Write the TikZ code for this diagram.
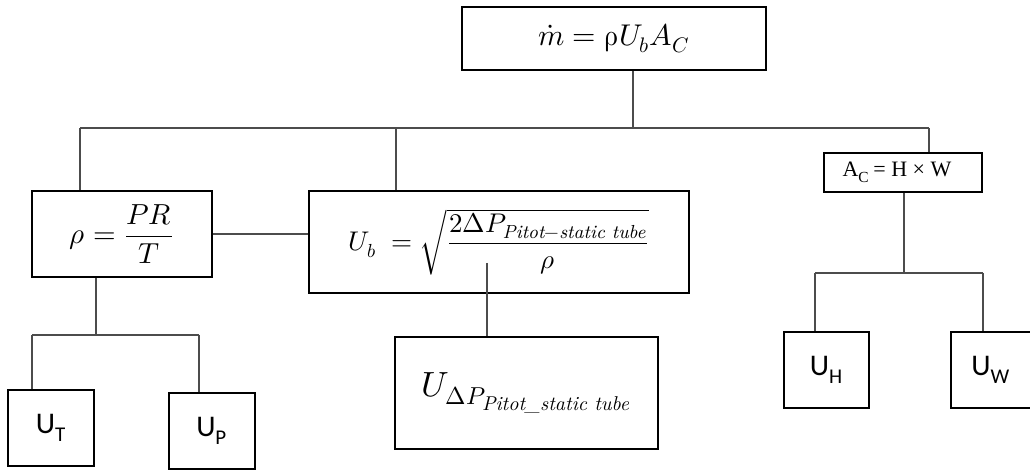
\documentclass[tikz,border=0pt]{standalone}
\usepackage{amsmath}
\usepackage{fontspec}
\usepackage{unicode-math}
\setmathfont{Latin Modern Math}
\newfontfamily\calib{Carlito}
\newfontfamily\tnr{Liberation Serif}
\usetikzlibrary{positioning}

\begin{document}
\begin{tikzpicture}[
    x=0.5pt, y=-0.5pt,
    box/.style={
        rectangle,
        draw=black,
        line width=0.9pt,
        align=center,
        inner sep=0pt
    },
    ubox/.style={
        box,
        minimum width=43pt,
        minimum height=38pt,
        font=\calib\fontsize{15}{18}\selectfont
    },
    link/.style={draw=black!70, line width=0.55pt}
]
\useasboundingbox (0,0) rectangle (1030,470);

% ---------------- Mass flow ----------------
\node[box, minimum width=152pt, minimum height=31.5pt, font=\fontsize{15}{18}\selectfont] (mdot) at (614,38.5) {$\dot m = \symup{\rho}U_bA_C$};

% ---------------- Second level ----------------
\node[box, minimum width=90pt, minimum height=43pt, font=\fontsize{14.5}{17}\selectfont] (rho) at (122,234) {$\rho = \dfrac{PR}{T}$};
\node[box, minimum width=190pt, minimum height=51pt, font=\fontsize{13.5}{16}\selectfont, right=47.5pt of rho.north east, anchor=north west] (ub) {$U_b\; = \sqrt{\dfrac{2\Delta P_{\textit{Pitot}-\textit{static tube}}}{\rho}}$};
\node[box, minimum width=79pt, minimum height=19.5pt, font=\tnr\fontsize{11}{13}\selectfont] (area) at (903,172.5) {A\textsubscript{C}\,= H × W\kern6pt};

% ---------------- Uncertainties ----------------
\node[box, minimum width=131.5pt, minimum height=56pt, font=\fontsize{17.5}{20}\selectfont] (udp) at (526.5,393) {$U_{\Delta P_{\mbox{\fontsize{10}{12}\selectfont\itshape Pitot\_static tube}}}$};
\node[ubox] (ut) at (51,428) {U\textsubscript{T}};
\node[ubox, right=36.5pt of ut, yshift=-1.5pt] (up) {U\textsubscript{P}};
\node[ubox, minimum width=42.5pt] (uh) at (826.5,370) {U\textsubscript{H}};
\node[ubox, minimum width=40pt, right=40pt of uh] (uw) {U\textsubscript{W}};

% ---------------- Connectors ----------------
\coordinate (mj) at (633,128);
\coordinate (bl) at (80,128);
\coordinate (bm) at (396,128);
\coordinate (br) at (929,128);
\draw[link] (mj |- mdot.south) -- (mj);
\draw[link] (bl) -- (br);
\draw[link] (bl) -- (bl |- rho.north);
\draw[link] (bm) -- (bm |- ub.north);
\draw[link] (br) -- (br |- area.north);
\draw[link] (rho.east) -- (rho.east -| ub.west);

\coordinate (uj) at (487,263);
\draw[link] (uj) -- (uj |- udp.north);

\coordinate (rj) at (96,335);
\coordinate (tl) at (32,335);
\coordinate (tr) at (199,335);
\draw[link] (rj |- rho.south) -- (rj);
\draw[link] (tl) -- (tr);
\draw[link] (tl) -- (tl |- ut.north);
\draw[link] (tr) -- (tr |- up.north);

\coordinate (aj) at (904,273);
\coordinate (hl) at (815,273);
\coordinate (hr) at (983,273);
\draw[link] (aj |- area.south) -- (aj);
\draw[link] (hl) -- (hr);
\draw[link] (hl) -- (hl |- uh.north);
\draw[link] (hr) -- (hr |- uw.north);

\end{tikzpicture}
\end{document}
